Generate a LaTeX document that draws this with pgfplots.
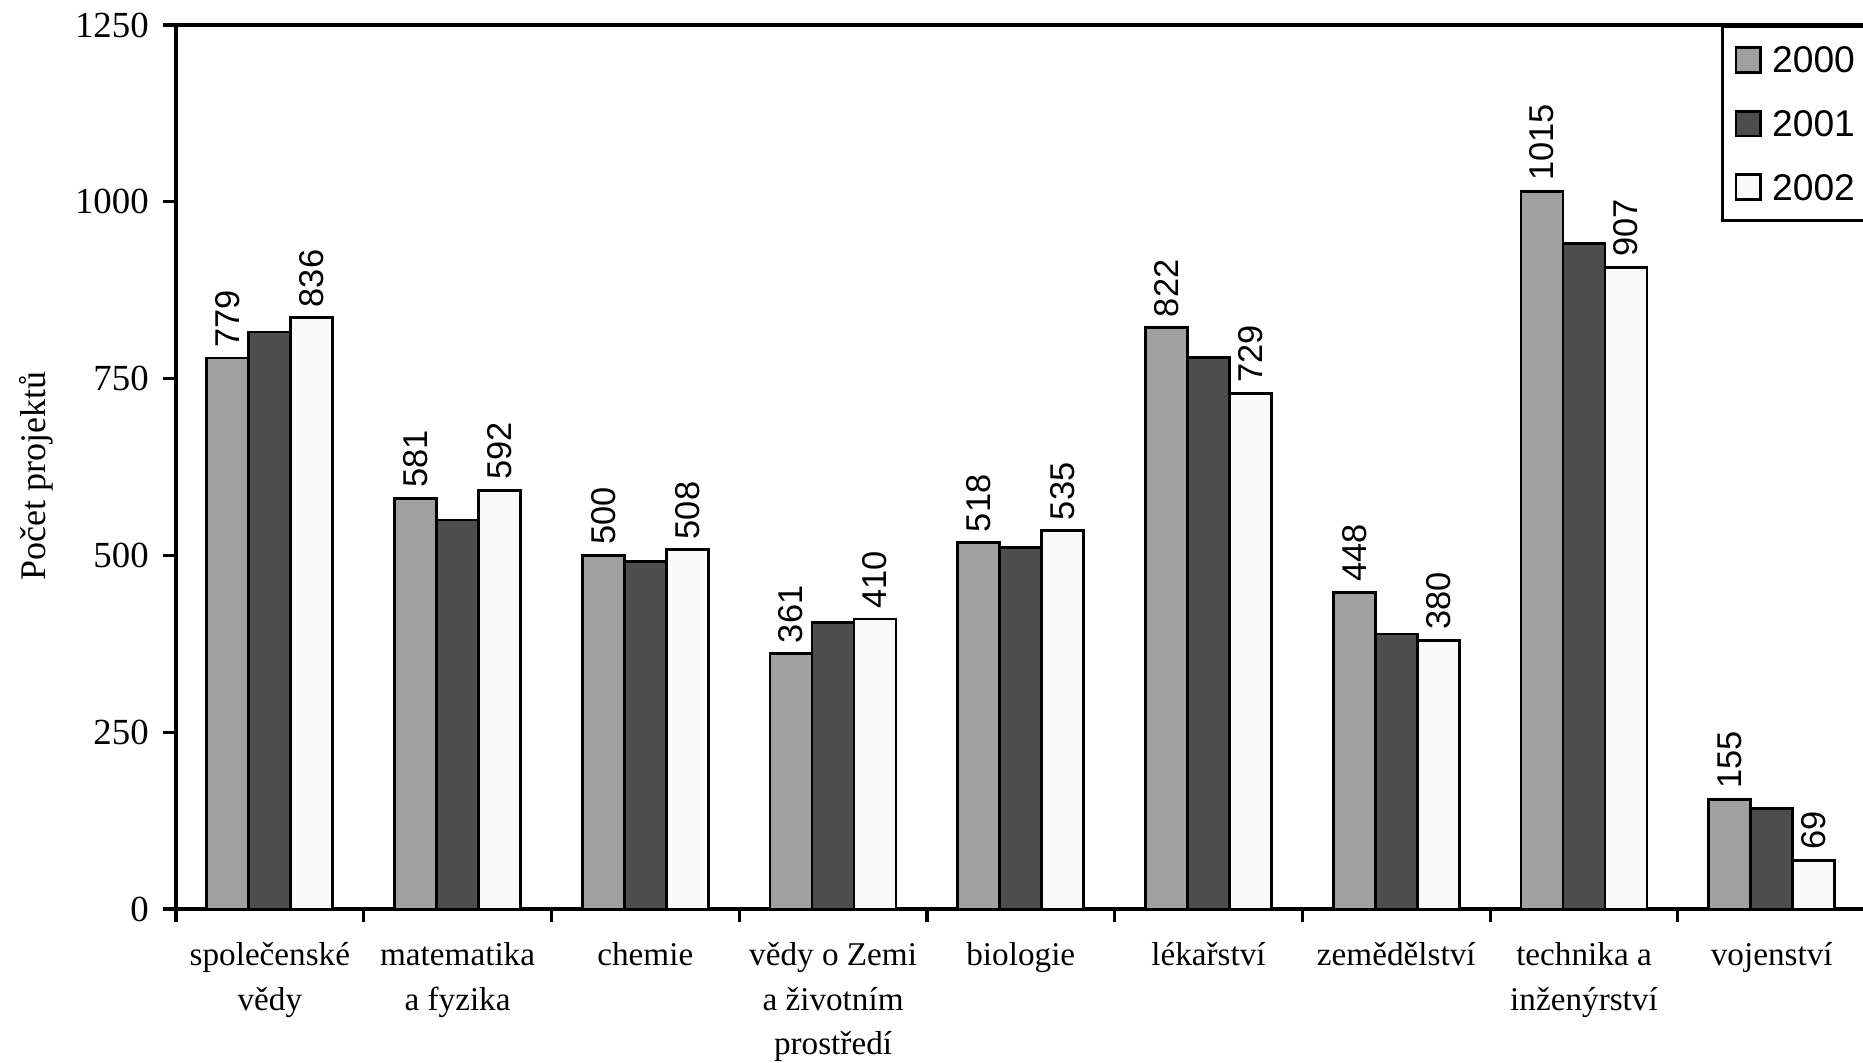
\documentclass[border=0pt]{standalone}
\usepackage{fontspec}
\setmainfont{Liberation Serif}
\newfontfamily\arial{Liberation Sans}
\usepackage{pgfplots}
\pgfplotsset{compat=1.18}
\definecolor{c2000}{RGB}{160,160,160}
\definecolor{c2001}{RGB}{77,77,77}
\definecolor{c2002}{RGB}{250,250,250}
\begin{document}
\begin{tikzpicture}
\begin{axis}[
  scale only axis, width=422.4pt, height=221pt,
  at={(0,0)}, anchor=south west,
  ybar=0pt, bar width=10.5pt,
  legend image code/.code={\draw[#1, line width=0.7pt] (0pt,-3.1pt) rectangle (6.2pt,3.1pt);},
  xmin=-0.5, xmax=8.5, ymin=0, ymax=1250,
  ytick={0,250,500,750,1000,1250},
  xtick={0,1,2,3,4,5,6,7,8},
  xticklabels={{společenské\\vědy},{matematika\\a fyzika},{chemie},{vědy o Zemi\\a životním\\prostředí},{biologie},{lékařství},{zemědělství},{technika a\\inženýrství},{vojenství}},
  minor xtick={-0.5,0.5,1.5,2.5,3.5,4.5,5.5,6.5,7.5,8.5},
  major x tick style={draw=none},
  tick align=outside,
  major tick length=3.3pt, minor tick length=3.3pt,
  xtick pos=bottom, ytick pos=left,
  every tick/.style={black, line width=0.8pt},
  axis line style={line width=0.8pt},
  /pgf/number format/assume math mode=true,
  /pgf/number format/1000 sep={},
  yticklabel style={font=\fontsize{9.2}{11}\selectfont},
  xticklabel style={align=center, font=\fontsize{8.3}{11.1}\selectfont, anchor=north, yshift=-1.6pt},
  ylabel={Počet projektů},
  every axis y label/.style={at={(axis description cs:-0.0829,0.49)}, rotate=90, anchor=center, font=\fontsize{9}{11}\selectfont},
  legend style={at={(0.9144,1)}, anchor=north west, draw=black, line width=0.8pt,
    font=\arial\fontsize{9.3}{11}\selectfont, inner xsep=3pt, inner ysep=4.1pt, row sep=7.4pt,
    nodes={inner sep=1pt, text depth=0pt}},
  legend cell align=left,
]
\addplot[fill=c2000, draw=black, line width=0.7pt,
  nodes near coords,
  every node near coord/.append style={rotate=90, anchor=west, font=\arial\fontsize{8.6}{10}\selectfont, inner sep=2.3pt, black}]
  coordinates {(0,779) (1,581) (2,500) (3,361) (4,518) (5,822) (6,448) (7,1015) (8,155)};
\addplot[fill=c2001, draw=black, line width=0.7pt]
  coordinates {(0,816) (1,550) (2,491) (3,405) (4,511) (5,780) (6,389) (7,941) (8,142)};
\addplot[fill=c2002, draw=black, line width=0.7pt,
  nodes near coords,
  every node near coord/.append style={rotate=90, anchor=west, font=\arial\fontsize{8.6}{10}\selectfont, inner sep=2.3pt, black}]
  coordinates {(0,836) (1,592) (2,508) (3,410) (4,535) (5,729) (6,380) (7,907) (8,69)};
\legend{\hspace{1.5pt}2000,\hspace{1.5pt}2001,\hspace{1.5pt}2002}
\end{axis}
\pgfresetboundingbox
\path[use as bounding box] (-44pt,-38.25pt) rectangle (421.75pt,227.25pt);
\end{tikzpicture}
\end{document}
